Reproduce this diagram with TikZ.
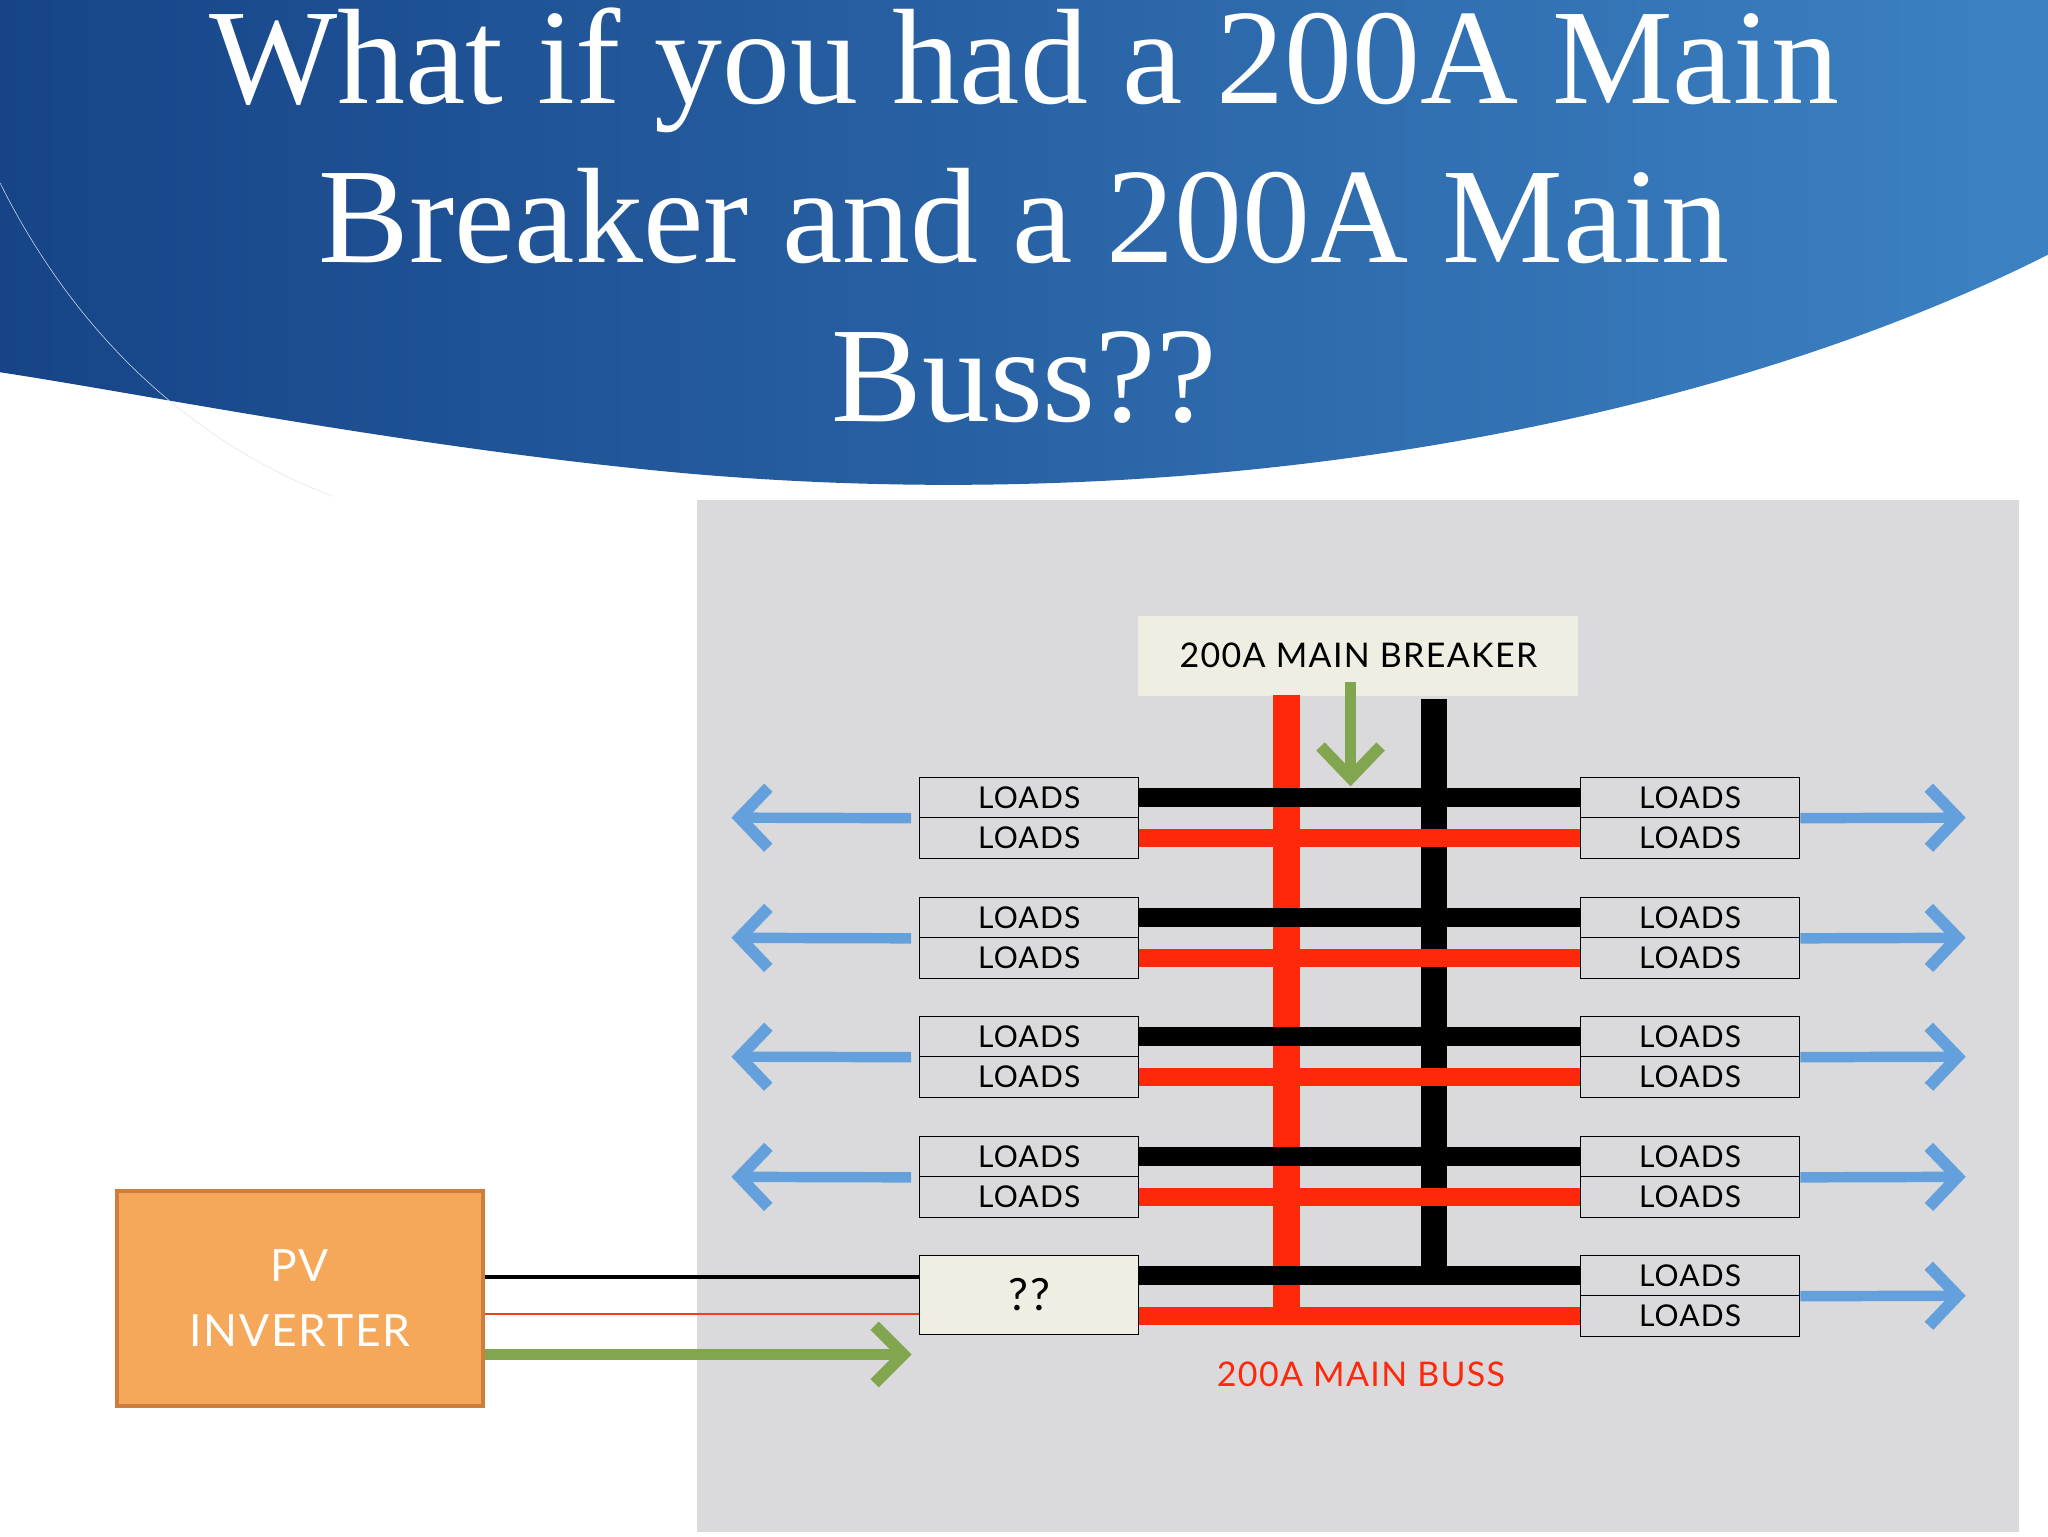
\documentclass[tikz,border=0pt]{standalone}
\usepackage{fontspec}
\setmainfont{Liberation Serif}
\newfontfamily\lbl[LetterSpace=4]{Lato}
\usetikzlibrary{arrows.meta}
\definecolor{panel}{RGB}{218,218,220}
\definecolor{beige}{RGB}{238,238,226}
\definecolor{busred}{RGB}{255,40,10}
\definecolor{arblue}{RGB}{100,160,220}
\definecolor{argreen}{RGB}{130,165,80}
\definecolor{pvfill}{RGB}{246,168,90}
\definecolor{pvdraw}{RGB}{205,125,60}
\definecolor{hdark}{RGB}{22,68,135}
\definecolor{hlight}{RGB}{60,130,195}
\tikzset{
 loadbox/.style={draw=black,thick,fill=panel,minimum width=168pt,minimum height=31pt,inner sep=0pt,font=\lbl\fontsize{23}{25}\selectfont},
 blk/.style={line width=14pt,black},
 rd/.style={line width=14pt,busred},
 barrow/.style={line width=8pt,arblue,-{Straight Barb[length=22pt,width=46pt,line width=9pt]}},
 garrow/.style={line width=8pt,argreen,-{Straight Barb[length=22pt,width=44pt,line width=9pt]}}
}
\begin{document}
\begin{tikzpicture}[x=1pt,y=-1pt]
\useasboundingbox (0,0) rectangle (1568,1176);
\fill[white] (0,0) rectangle (1568,1176);
% header
\shade[left color=hdark,right color=hlight] (0,0) -- (1568,0) -- (1568,195) .. controls (1300,330) and (900,400) .. (500,360) .. controls (300,340) and (100,300) .. (0,285) -- cycle;
\draw[white!80!hlight,thin] (0,140) .. controls (60,260) and (150,340) .. (255,380);
\node[white,font=\fontsize{104}{122}\selectfont,align=center] (title) at (784,165) {What if you had a 200A Main\\Breaker and a 200A Main\\Buss??};
% panel
\fill[panel] (534,383) rectangle (1546,1173);
\node[fill=beige,minimum width=337pt,minimum height=61pt,inner sep=0pt,font=\lbl\fontsize{26}{28}\selectfont] (brk) at (1040,502) {200A MAIN BREAKER};
% vertical busses
\coordinate (rt) at (985,532); \coordinate (rb) at (985,1012);
\coordinate (bt) at (1098,535); \coordinate (bb) at (1098,975);
\draw[line width=20pt,busred] (rt) -- (rb);
\draw[line width=20pt,black] (bt) -- (bb);
% rows
\foreach \i/\y in {1/595,2/687,3/778,4/870}{
 \node[loadbox] (L\i a) at (788,\y+15.5) {LOADS};
 \node[loadbox] (L\i b) at (788,\y+46.5) {LOADS};
 \node[loadbox] (R\i a) at (1294,\y+15.5) {LOADS};
 \node[loadbox] (R\i b) at (1294,\y+46.5) {LOADS};
 \draw[blk] (L\i a.east) -- (R\i a.west);
 \draw[rd] (L\i b.east) -- (R\i b.west);
 \coordinate (la\i) at (560,\y+31);
 \coordinate (ra\i) at (1505,\y+31);
 \draw[barrow] (L\i a.south west) ++(-6,0) -- (la\i);
 \draw[barrow] (R\i a.south east) -- (ra\i);
}
\node[loadbox,minimum height=61pt,fill=beige,font=\lbl\fontsize{34}{36}\selectfont] (q) at (788,991.5) {??};
\node[loadbox] (R5a) at (1294,976.5) {LOADS};
\node[loadbox] (R5b) at (1294,1007.5) {LOADS};
\draw[blk] (q.east|-R5a) -- (R5a.west);
\draw[rd] (q.east|-R5b) -- (R5b.west);
\coordinate (ra5) at (1505,992);
\draw[barrow] (R5a.south east) -- (ra5);
% breaker arrow
\coordinate (ga) at (1034,522); \coordinate (gb) at (1034,602);
\draw[line width=9pt,argreen,-{Straight Barb[length=24pt,width=46pt,line width=9pt]}] (ga) -- (gb);
\node[busred,font=\lbl\fontsize{26}{28}\selectfont] (buss) at (1042,1052) {200A MAIN BUSS};
% PV inverter
\node[fill=pvfill,draw=pvdraw,line width=3pt,minimum width=280pt,minimum height=165pt,align=center,text=white,font=\lbl\fontsize{34}{50}\selectfont] (pv) at (229.5,994) {PV\\INVERTER};
\draw[line width=3pt,black] (pv.east|-0,978) -- (q.west|-0,978);
\draw[line width=2pt,busred!70!pvdraw] (pv.east|-0,1006) -- (q.west|-0,1006);
\coordinate (gend) at (698,1037);
\draw[garrow] (pv.east|-gend) -- (gend);
\end{tikzpicture}
\end{document}
